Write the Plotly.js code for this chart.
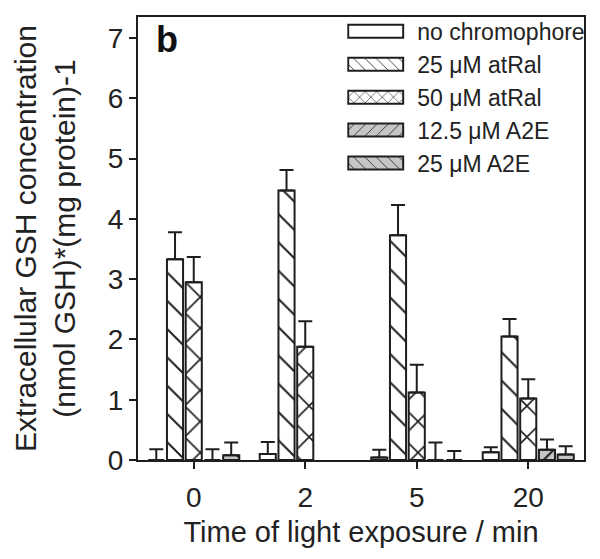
<!DOCTYPE html>
<html>
<head>
<meta charset="utf-8">
<script src="https://cdn.plot.ly/plotly-3.0.1.min.js"></script>
<style>
  html, body { margin: 0; padding: 0; background: #fff; }
  #chart { width: 600px; height: 559px; }
</style>
</head>
<body>
<div id="chart"></div>
<script>
var config = { responsive: false, displayModeBar: false }

// Time of light exposure (min) - categories on the x axis
var times = ['0', '2', '5', '20'];

// Extracellular GSH, nmol GSH / mg protein
var noChrom = [0.0, 0.10, 0.04, 0.13];
var noChromErr = [0.18, 0.20, 0.13, 0.08];

var atRal25 = [3.33, 4.47, 3.73, 2.05];
var atRal25Err = [0.45, 0.34, 0.50, 0.29];

var atRal50 = [2.95, 1.88, 1.12, 1.02];
var atRal50Err = [0.42, 0.42, 0.46, 0.32];

var a2e125 = [0.0, null, 0.0, 0.17];
var a2e125Err = [0.18, null, 0.29, 0.17];

var a2e25 = [0.08, null, 0.0, 0.09];
var a2e25Err = [0.21, null, 0.15, 0.14];

var names = ['no chromophore', '25 \u03bcM atRal', '50 \u03bcM atRal', '12.5 \u03bcM A2E', '25 \u03bcM A2E'];

var ink = '#1e1e1e';
var gray = '#c6c6c6';

function makeTrace(name, vals, errs, fill, shape, size, solid, group) {
    return {
        x: times,
        y: vals,
        name: name,
        type: 'bar',
        legendgroup: group,
        marker: {
            color: fill,
            line: { color: ink, width: 2 },
            pattern: { shape: shape, fgcolor: ink, bgcolor: fill, size: size, solidity: solid, fillmode: 'replace' }
        },
        error_y: {
            type: 'data',
            symmetric: false,
            array: errs,
            arrayminus: errs.map(e => 0),
            color: ink,
            thickness: 2,
            width: 7
        },
        hoverinfo: 'skip'
    };
}

var data = [
    makeTrace(names[0], noChrom, noChromErr, '#ffffff', '', 20, 0.1, 'g1'),
    makeTrace(names[1], atRal25, atRal25Err, '#ffffff', '\\', 20, 0.1, 'g2'),
    makeTrace(names[2], atRal50, atRal50Err, '#ffffff', 'x', 22, 0.14, 'g3'),
    makeTrace(names[3], a2e125, a2e125Err, gray, '/', 20, 0.1, 'g4'),
    makeTrace(names[4], a2e25, a2e25Err, gray, '\\', 20, 0.1, 'g5')
];

var fam = 'Liberation Sans, Arial, sans-serif';
var tickFont = { family: fam, size: 28, color: '#222' };

var layout = {
    width: 600,
    height: 559,
    paper_bgcolor: '#fff',
    plot_bgcolor: '#fff',
    font: { family: fam, color: '#222' },
    margin: { l: 138, r: 10, t: 17, b: 99, pad: 0 },
    barmode: 'group',
    bargap: 0.16,
    bargroupgap: 0.14,
    showlegend: true,
    legend: {
        x: 0.469, xanchor: 'left',
        y: 1.016, yanchor: 'top',
        bgcolor: 'rgba(0,0,0,0)',
        font: { family: fam, size: 23, color: '#222' },
        traceorder: 'grouped',
        tracegroupgap: 0,
        itemwidth: 60
    },
    xaxis: {
        type: 'category',
        range: [-0.5, 3.5],
        showline: true, linecolor: ink, linewidth: 2, mirror: true,
        ticks: 'outside', ticklen: 7, tickwidth: 2, tickcolor: ink,
        ticklabelstandoff: 4,
        tickfont: tickFont,
        showgrid: false, zeroline: false,
        title: { text: 'Time of light exposure / min', font: { family: fam, size: 29, color: '#222' }, standoff: 10 }
    },
    yaxis: {
        range: [0, 7.35],
        dtick: 1,
        showline: true, linecolor: ink, linewidth: 2, mirror: true,
        ticks: 'outside', ticklen: 7, tickwidth: 2, tickcolor: ink,
        tickfont: tickFont,
        showgrid: false, zeroline: false,
        title: { text: 'Extracellular GSH concentration<br>(nmol GSH)*(mg protein)-1', font: { family: fam, size: 30, color: '#222' }, standoff: 23 }
    },
    annotations: [{
        text: '<b>b</b>', xref: 'paper', yref: 'paper',
        x: 0.036, y: 1.0, xanchor: 'left', yanchor: 'top',
        showarrow: false,
        font: { family: fam, size: 36, color: '#111' }
    }]
};

Plotly.newPlot('chart', data, layout, config).then(function (gd) {
    // widen the legend swatches into flat rectangles like the original figure
    gd.querySelectorAll('.legend .legendpoints path').forEach(function (p) {
        p.setAttribute('d', 'M-34,6.5H21V-6.5H-34Z');
        p.style.strokeWidth = '2px';
    });
});
</script>
</body>
</html>
